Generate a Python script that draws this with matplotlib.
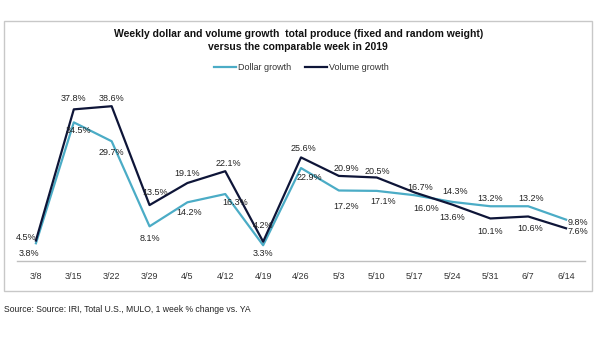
import matplotlib.pyplot as plt
from matplotlib.patches import Rectangle

plt.rcParams["font.family"] = ["Liberation Sans", "DejaVu Sans"]

weeks = ["3/8", "3/15", "3/22", "3/29", "4/5", "4/12", "4/19", "4/26",
         "5/3", "5/10", "5/17", "5/24", "5/31", "6/7", "6/14"]
dollar_growth = [3.8, 34.5, 29.7, 8.1, 14.2, 16.3, 3.3, 22.9,
                 17.2, 17.1, 16.0, 14.3, 13.2, 13.2, 9.8]
volume_growth = [4.5, 37.8, 38.6, 13.5, 19.1, 22.1, 4.2, 25.6,
                 20.9, 20.5, 16.7, 13.6, 10.1, 10.6, 7.6]

# label offsets in pixels (dx, dy), hand-placed to keep labels clear of lines
dollar_offsets = [(-7, -10), (5, -8), (0, -11), (0, -12), (2, -10), (10, -8),
                  (0, -8), (8, -9), (7, -16), (6, -11), (12, -13), (3, 10),
                  (0, 8), (3, 8), (12, -3)]
volume_offsets = [(-10, 3), (0, 11), (0, 8), (6, 13), (0, 10), (3, 8),
                  (0, 16), (2, 9), (8, 7), (1, 6), (6, 5), (0, -13),
                  (0, -13), (2, -12), (12, -3)]

DOLLAR_COLOR = "#4BACC6"
VOLUME_COLOR = "#0E1538"

fig = plt.figure(figsize=(6.0, 3.38), dpi=100)

# light grey frame around the chart area
fig.patches.append(Rectangle((4 / 600, 1 - 291 / 338), 588 / 600, 270 / 338,
                             transform=fig.transFigure, fill=False,
                             edgecolor="#C8C8C8", linewidth=1.0))

ax = fig.add_axes([17 / 600, 1 - 261 / 338, 568 / 600, 180 / 338])
x = list(range(len(weeks)))
ax.plot(x, dollar_growth, color=DOLLAR_COLOR, linewidth=1.6, label="Dollar growth")
ax.plot(x, volume_growth, color=VOLUME_COLOR, linewidth=1.6, label="Volume growth")

for i, v in enumerate(dollar_growth):
    ax.annotate(f"{v:.1f}%", (i, v), xytext=dollar_offsets[i],
                textcoords="offset pixels", ha="center", va="center",
                fontsize=6.5, color="#222222")
for i, v in enumerate(volume_growth):
    ax.annotate(f"{v:.1f}%", (i, v), xytext=volume_offsets[i],
                textcoords="offset pixels", ha="center", va="center",
                fontsize=6.5, color="#222222")

ax.set_xlim(-0.5, len(weeks) - 0.5)
ax.set_ylim(-0.7, 45)
ax.set_xticks(x)
ax.set_xticklabels(weeks, fontsize=6.5, color="#333333")
ax.tick_params(axis="x", length=0, pad=8)
ax.set_yticks([])
for side in ("top", "left", "right"):
    ax.spines[side].set_visible(False)
ax.spines["bottom"].set_color("#BFBFBF")
ax.spines["bottom"].set_linewidth(1.0)
ax.patch.set_alpha(0)

fig.text(0.497, 1 - 34 / 338, "Weekly dollar and volume growth  total produce (fixed and random weight)",
         ha="center", va="center", fontsize=7.45, fontweight="bold", color="#111111")
fig.text(0.497, 1 - 47 / 338, "versus the comparable week in 2019",
         ha="center", va="center", fontsize=7.45, fontweight="bold", color="#111111")

fig.legend(loc="center", bbox_to_anchor=(0.502, 1 - 68 / 338), ncol=2, frameon=False,
           fontsize=6.5, handlelength=2.5, handletextpad=0.2, columnspacing=1.5,
           labelcolor="#333333")

fig.text(4 / 600, 1 - 310 / 338, "Source: Source: IRI, Total U.S., MULO, 1 week % change vs. YA",
         ha="left", va="center", fontsize=6.2, color="#222222")

fig.savefig("out.png", dpi=100)
